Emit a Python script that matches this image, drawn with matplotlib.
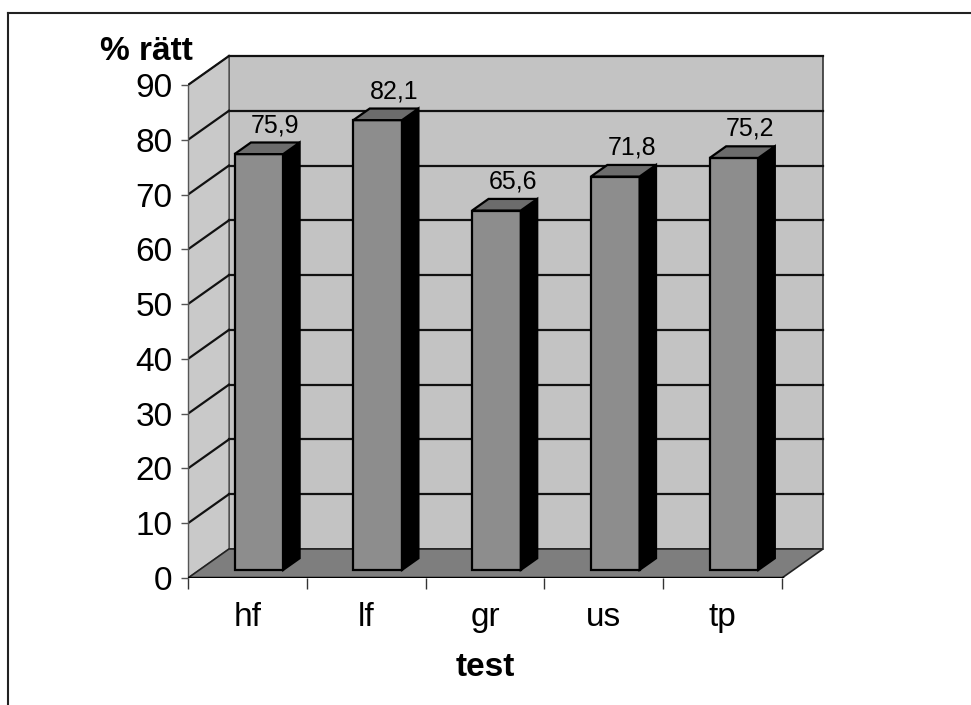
import matplotlib
matplotlib.use("Agg")
import matplotlib.pyplot as plt
from matplotlib.patches import Polygon, Rectangle
from matplotlib.lines import Line2D

plt.rcParams['font.family'] = ['Liberation Sans', 'DejaVu Sans']

# Data
categories = ["hf", "lf", "gr", "us", "tp"]
values = [75.9, 82.1, 65.6, 71.8, 75.2]
value_labels = ["75,9", "82,1", "65,6", "71,8", "75,2"]
y_ticks = [0, 10, 20, 30, 40, 50, 60, 70, 80, 90]
y_max = 90

# Pseudo-3D geometry (in data units)
DX = 0.345      # horizontal shift of the back plane
DY = 5.3        # vertical shift of the back plane
BAR_W = 0.41    # bar width
BAR_F = 0.28    # depth position of bar front face (fraction)
BAR_D = 0.40    # bar depth (fraction)

W_PX, H_PX = 971, 705
fig = plt.figure(figsize=(W_PX / 100, H_PX / 100), dpi=100)

x0_px, y0_px = 188, 578
ux = 118.8       # pixels per category
uy = 493 / 90    # pixels per value unit
xlim = (-0.5, 5.0)
ylim = (0, 100)
ax = fig.add_axes([x0_px / W_PX, (H_PX - y0_px) / H_PX,
                   (xlim[1] - xlim[0]) * ux / W_PX, (ylim[1] - ylim[0]) * uy / H_PX])
ax.set_xlim(*xlim)
ax.set_ylim(*ylim)
ax.patch.set_visible(False)

n = len(categories)
xl, xr = -0.5, n - 0.5

wall_col = "#c3c3c3"
side_wall_col = "#c9c9c9"
floor_col = "#7e7e7e"
front_col = "#8d8d8d"
top_col = "#6c6c6c"

# Back wall
ax.add_patch(Polygon([(xl + DX, DY), (xr + DX, DY), (xr + DX, y_max + DY), (xl + DX, y_max + DY)],
                     closed=True, facecolor=wall_col, edgecolor="#333333", lw=1.2, zorder=1))
# Left wall
ax.add_patch(Polygon([(xl, 0), (xl + DX, DY), (xl + DX, y_max + DY), (xl, y_max)],
                     closed=True, facecolor=side_wall_col, edgecolor="#555555", lw=1.0, zorder=1))
# Gridlines on back and left walls
for t in y_ticks[1:]:
    ax.add_line(Line2D([xl + DX, xr + DX], [t + DY, t + DY], color="#111111", lw=1.6, zorder=2))
    ax.add_line(Line2D([xl, xl + DX], [t, t + DY], color="#111111", lw=1.6, zorder=2))
# Floor
ax.add_patch(Polygon([(xl, 0), (xr, 0), (xr + DX, DY), (xl + DX, DY)],
                     closed=True, facecolor=floor_col, edgecolor="#222222", lw=1.2, zorder=3))
ax.add_line(Line2D([xl, xr], [0, 0], color="black", lw=2.5, zorder=4))

# Bars
for i, (v, lab) in enumerate(zip(values, value_labels)):
    fx = i + BAR_F * DX - BAR_W / 2
    fy = BAR_F * DY
    ddx, ddy = BAR_D * DX, BAR_D * DY
    ax.add_patch(Rectangle((fx, fy), BAR_W, v, facecolor=front_col,
                           edgecolor="black", lw=1.6, zorder=5))
    ax.add_patch(Polygon([(fx + BAR_W, fy), (fx + BAR_W + ddx, fy + ddy),
                          (fx + BAR_W + ddx, fy + v + ddy), (fx + BAR_W, fy + v)],
                         closed=True, facecolor="black", edgecolor="black", lw=1.6, zorder=5))
    ax.add_patch(Polygon([(fx, fy + v), (fx + BAR_W, fy + v),
                          (fx + BAR_W + ddx, fy + v + ddy), (fx + ddx, fy + v + ddy)],
                         closed=True, facecolor=top_col, edgecolor="black", lw=1.6, zorder=6))
    ax.annotate(lab, xy=(fx + ddx + BAR_W / 2, fy + v + ddy), xytext=(0, 7.5),
                textcoords="offset points", ha="center", va="baseline",
                fontsize=18, color="black", zorder=7)

# Axes: spines and ticks
for s in ["top", "right"]:
    ax.spines[s].set_visible(False)
ax.spines["bottom"].set_visible(False)
ax.spines["left"].set_bounds(0, y_max)
ax.spines["left"].set_color("#555555")
ax.spines["left"].set_linewidth(1.0)
ax.spines["left"].set_zorder(2)

ax.set_yticks(y_ticks)
ax.set_yticklabels([str(t) for t in y_ticks])
ax.tick_params(axis="y", direction="out", length=5, width=1.0, color="#555555",
               pad=6, labelsize=24)

ax.set_xticks([i - 0.5 for i in range(n + 1)])
ax.set_xticklabels([""] * (n + 1))
ax.set_xticks(range(n), minor=True)
ax.set_xticklabels(categories, minor=True)
ax.tick_params(axis="x", which="major", direction="out", length=8, width=1.0, color="#333333")
ax.tick_params(axis="x", which="minor", length=0, pad=17, labelsize=24)

# Titles
fig.text(193 / W_PX, 1 - 52 / H_PX, "% rätt", ha="right", va="center",
         fontsize=24, fontweight="bold")
fig.text(485 / W_PX, 1 - 667 / H_PX, "test", ha="center", va="center",
         fontsize=24, fontweight="bold")

# Outer frame
fig.add_artist(Line2D([8 / W_PX, 1.0], [1 - 13 / H_PX, 1 - 13 / H_PX],
                      transform=fig.transFigure, color="#222222", lw=1.5))
fig.add_artist(Line2D([8 / W_PX, 8 / W_PX], [0, 1 - 13 / H_PX],
                      transform=fig.transFigure, color="#222222", lw=1.5))

fig.savefig("out.png", dpi=100)
